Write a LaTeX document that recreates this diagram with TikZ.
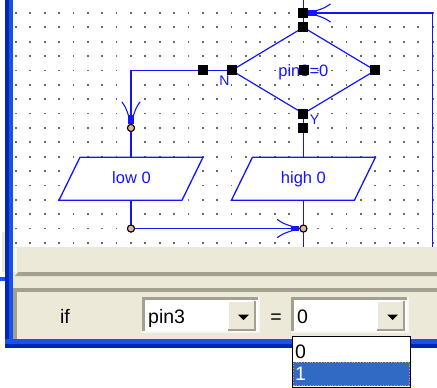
\documentclass[tikz,border=0pt]{standalone}
\usepackage{fontspec}
\setmainfont{Liberation Sans}
\definecolor{fcblue}{RGB}{20,20,255}
\definecolor{panel}{RGB}{236,233,216}
\definecolor{pdark}{RGB}{163,160,145}
\definecolor{plight}{RGB}{248,247,242}
\definecolor{wdark}{RGB}{0,38,180}
\definecolor{wblue}{RGB}{22,84,232}
\definecolor{selblue}{RGB}{49,106,197}
\definecolor{jfill}{RGB}{225,180,145}
\definecolor{dotc}{RGB}{105,105,105}
\definecolor{focusc}{RGB}{230,160,60}
\begin{document}
\begin{tikzpicture}[x=1pt,y=-1pt,
  fc/.style={draw=fcblue, line width=1.5pt},
  sq/.style={rectangle, fill=black, minimum size=10pt, inner sep=0pt, outer sep=0pt},
  jn/.style={circle, draw=black, fill=jfill, minimum size=7pt, inner sep=0pt, line width=1pt},
  fctext/.style={text=fcblue, font=\fontsize{16.5}{18}\selectfont, inner sep=0pt, anchor=base},
  yn/.style={text=fcblue, font=\fontsize{14}{16}\selectfont, inner sep=0pt, anchor=base},
  uitext/.style={font=\fontsize{19.5}{21}\selectfont, inner sep=0pt, anchor=base west},
  feath/.pic={
    \fill[fcblue] (-8.5,-2.6) rectangle (0,2.6);
    \draw[fcblue, line width=1.1pt, line cap=round] (-6,1.8) .. controls (-12,3.5) and (-16,5) .. (-19,7) -- (-22,9);
    \draw[fcblue, line width=1.1pt, line cap=round] (-6,-1.8) .. controls (-12,-3.5) and (-16,-5) .. (-19,-7) -- (-22,-9);
  }
]
\useasboundingbox (0,0) rectangle (437,388);
\fill[white] (0,0) rectangle (437,388);
% drawing area with grid
\fill[white] (13,0) rectangle (437,247);
\foreach \i in {0,...,29} {
  \foreach \j in {0,...,16} {
    \fill[dotc] ({16+14.37*\i-0.9},{13+14.37*\j-0.9}) rectangle ++(1.8,1.8);
  }
}
% named points
\node[sq] (s0) at (303.4,13) {};
\node[sq] (s1) at (303.4,27.37) {};
\node[sq] (sl) at (231.55,70.48) {};
\node[sq] (sr) at (375.25,70.48) {};
\node[sq] (sb) at (303.4,113.59) {};
\node[sq] (sb2) at (303.4,127.96) {};
\node[sq] (sll) at (202.81,70.48) {};
\coordinate (top) at (303.4,0);
\coordinate (rc) at (432.73,13);
\coordinate (rb) at (432.73,247);
\coordinate (lc) at (130.96,70.48);
\coordinate (bot3) at (303.4,247);
\coordinate (lowtop) at (130.96,157.3);
\coordinate (lowbot) at (130.96,200.3);
\coordinate (hightop) at (303.4,157.3);
\coordinate (highbot) at (303.4,200.3);
\node[jn] (j1) at (130.96,127.96) {};
\node[jn] (j2) at (130.96,228.55) {};
\node[jn] (j3) at (303.4,228.55) {};
% connectors
\draw[fc] (top) -- (s0.center);
\draw[fc] (s0.center) -- (rc) -- (rb);
\draw[fc] (s0.center) -- (s1.center);
\draw[fc, line width=1.2pt] (s1.center) -- (sr.center) -- (sb.center) -- (sl.center) -- cycle;
\draw[fc] (sl.center) -- (sll.center) -- (lc) -- (j1.center);
\draw[fc] (j1.center) -- (lowtop);
\draw[fc] (lowbot) -- (j2.center);
\draw[fc] (j2.center) -- (j3.center);
\draw[fc] (sb.center) -- (sb2.center) -- (hightop);
\draw[fc] (highbot) -- (j3.center) -- (bot3);
% parallelograms
\draw[fc, line width=1.3pt, fill=white] (130.96-51,157.3) -- (130.96+72,157.3) -- (130.96+51,200.3) -- (130.96-72,200.3) -- cycle;
\draw[fc, line width=1.3pt, fill=white] (303.4-51,157.3) -- (303.4+72,157.3) -- (303.4+51,200.3) -- (303.4-72,200.3) -- cycle;
\node[fctext] (low) at (131.5,183) {low 0};
\node[fctext] (high) at (303.4,183) {high 0};
% arrowheads
\pic[rotate=-90] at (j1.north) {feath};
\pic at (j3.west) {feath};
\pic[rotate=180] at (s0.east) {feath};
% redraw points on top
\node[sq] at (s0) {};
\node[sq] at (s1) {};
\node[sq] at (sl) {};
\node[sq] at (sr) {};
\node[sq] at (sb) {};
\node[sq] at (sb2) {};
\node[sq] at (sll) {};
\node[jn] at (j1) {};
\node[jn] at (j2) {};
\node[jn] at (j3) {};
% decision text and labels
\node[fctext] (cond) at (303.4,76.3) {pin3=0};
\node[sq] (sc) at (303.6,69.8) {};
\node[yn] (nlbl) at (224.5,85.5) {N};
\node[yn] (ylbl) at (314.5,124.5) {Y};
% lower panel
\fill[panel] (13,247) rectangle (437,339);
\fill[plight] (13,248) rectangle (17,272);
\fill[pdark] (15,276) -- (18.5,272) -- (437,272) -- (437,276) -- cycle;
\fill[pdark] (13,287.5) rectangle (437,291.5);
\fill[pdark] (13,287.5) rectangle (17,339);
% window frame
\fill[panel] (1.8,232) rectangle (4.5,272);
\fill[wdark] (5,0) rectangle (8.5,348);
\fill[wblue] (8.5,0) rectangle (13,339);
\fill[wblue] (5,339) rectangle (437,344);
\fill[wdark] (5,344) rectangle (437,348);
\fill[wblue] (0,277) rectangle (5,280.5);
% combo boxes
\foreach \cx in {142,291} {
  \begin{scope}[shift={(\cx,0)}]
    \fill[white] (0,297) rectangle (118,333);
    \fill[pdark] (0,297) rectangle (118,300);
    \fill[pdark] (0,297) rectangle (3,333);
    \fill[plight] (0,331) rectangle (118,333);
    \fill[plight] (116,297) rectangle (118,333);
    \fill[panel] (85.5,300.5) rectangle (113.5,330.5);
    \fill[white] (85.5,300.5) rectangle (87,329);
    \fill[white] (85.5,300.5) rectangle (113.5,302);
    \fill[pdark] (85.5,328.5) rectangle (113.5,330.5);
    \fill[pdark] (111.5,300.5) rectangle (113.5,330.5);
    \fill[black] (96,314.5) -- (107,314.5) -- (101.5,320) -- cycle;
  \end{scope}
}
\node[uitext, anchor=base] (iflbl) at (65,323) {if};
\node[uitext] (cb1) at (148,323) {pin3};
\node[uitext, anchor=base] (eq) at (276,323) {=};
\node[uitext] (cb2) at (297,323) {0};
% dropdown list
\fill[white] (292,336) rectangle (411,388);
\fill[selblue] (293,362) rectangle (410,386);
\draw[focusc, dotted, line width=0.8pt] (293.6,362.6) rectangle (409.4,385.4);
\draw[black, line width=1pt] (292.5,336.5) rectangle (410.5,387.5);
\node[uitext] (li0) at (295,358) {0};
\node[uitext, text=white] (li1) at (295,380) {1};
\end{tikzpicture}
\end{document}
